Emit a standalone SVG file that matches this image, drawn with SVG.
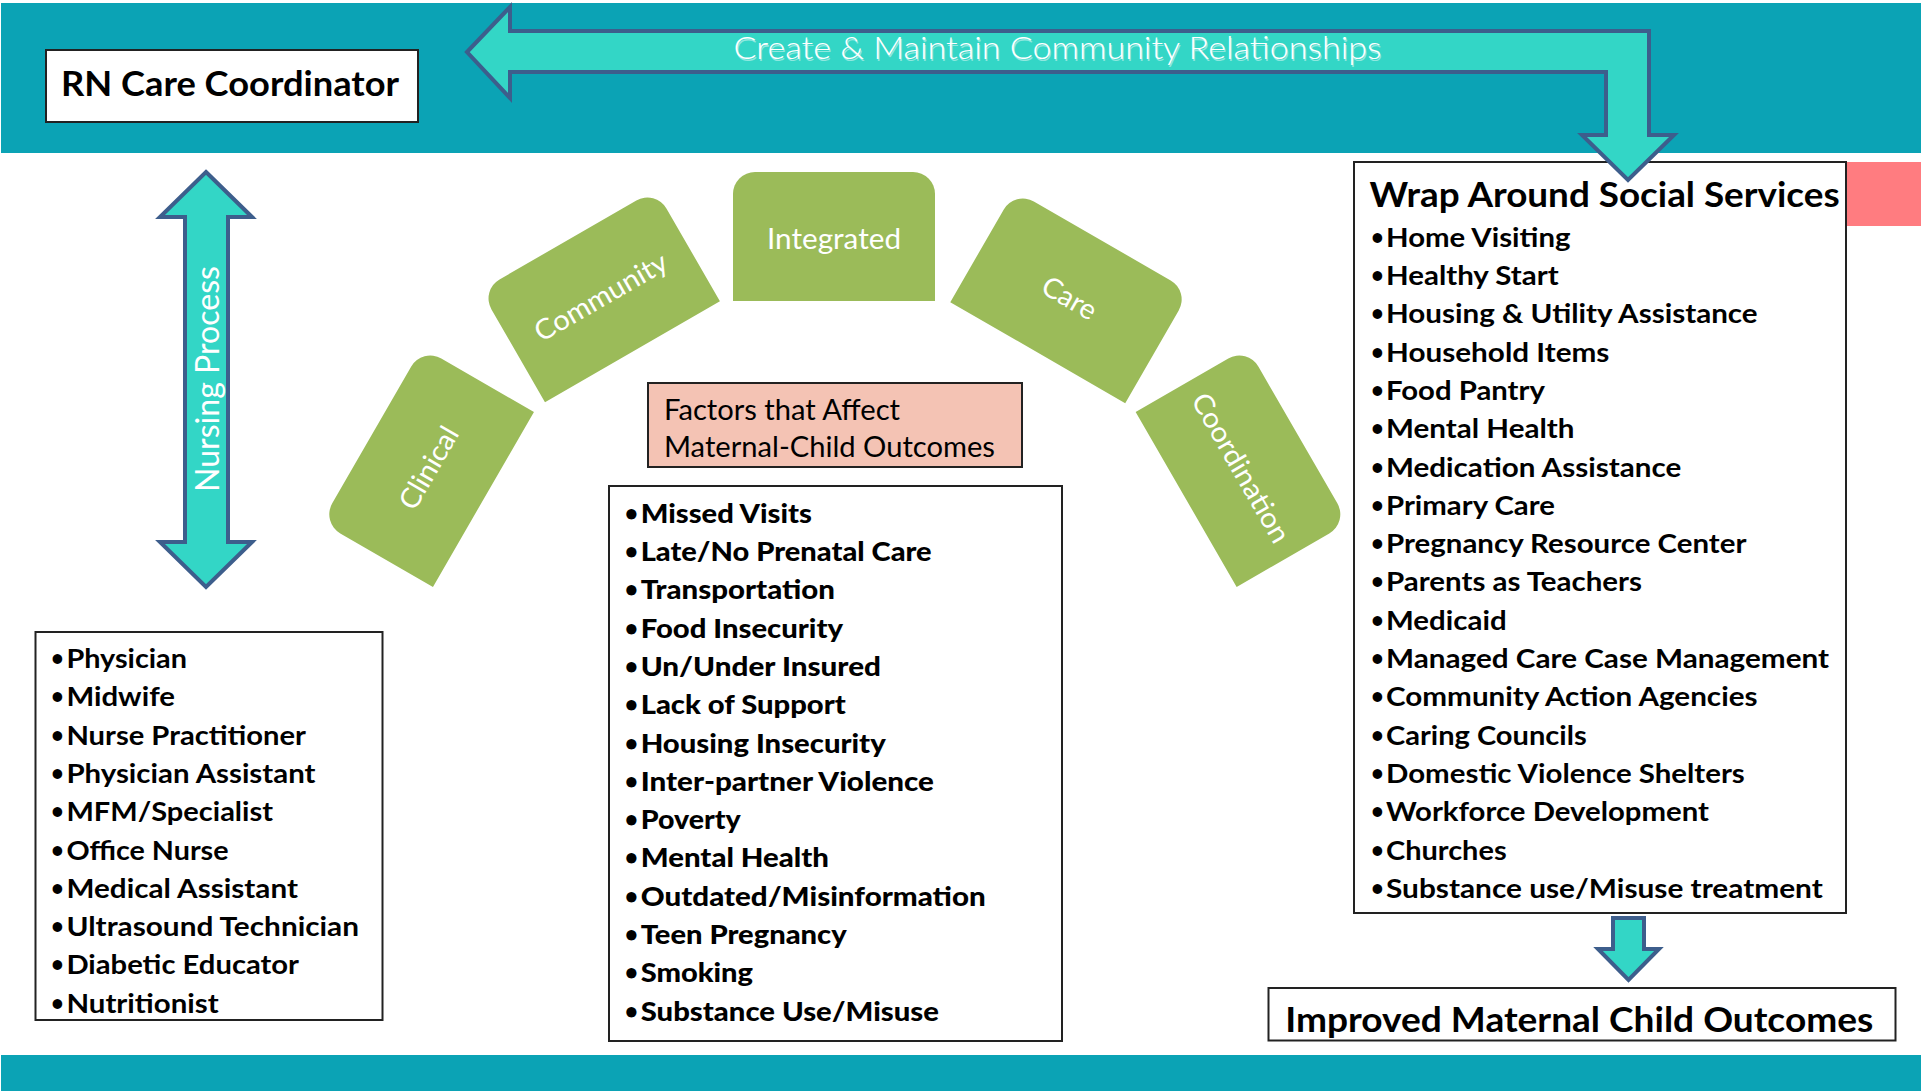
<svg xmlns="http://www.w3.org/2000/svg" width="1921" height="1091" viewBox="0 0 1921 1091">
<defs>
<style>
.band{fill:#0BA3B5}
.arrow{fill:#33D6C6;stroke:#3D5E8C;stroke-width:4;stroke-linejoin:miter}
.box{fill:#FFFFFF;stroke:#222222;stroke-width:2}
.petal{fill:#9BBB59}
.pt{font-family:Lato,"Liberation Sans",sans-serif;font-size:28px;fill:#FFFFFF;text-anchor:middle}
.li{font-family:Lato,"Liberation Sans",sans-serif;font-weight:700;font-size:27.5px;fill:#000000}
.fl{font-family:Lato,"Liberation Sans",sans-serif;font-weight:900;font-size:26px;fill:#000000}
.hd{font-family:Lato,"Liberation Sans",sans-serif;font-weight:700;font-size:35px;fill:#000000}
.wt{font-family:Lato,"Liberation Sans",sans-serif;fill:#FFFFFF}
.b{font-size:22px}
</style>
<path id="petalShape" d="M -101,64.5 V -42.5 A 22 22 0 0 1 -79,-64.5 H 79 A 22 22 0 0 1 101,-42.5 V 64.5 Z"/>
</defs>
<rect x="0" y="0" width="1921" height="1091" fill="#FFFFFF"/>
<rect class="band" x="1" y="3" width="1920" height="150"/>
<rect class="band" x="1" y="1055" width="1920" height="36"/>

<g id="rn-care-coordinator">
<rect class="box" x="46" y="50" width="372" height="72"/>
<text class="hd" x="61" y="95.5" font-size="36" textLength="338" lengthAdjust="spacingAndGlyphs">RN Care Coordinator</text>
</g>

<g id="arc-clinical" transform="translate(427.6,467.2) rotate(-60)">
<use href="#petalShape" class="petal"/>
<text class="pt" x="0" y="11" textLength="90.6" lengthAdjust="spacingAndGlyphs">Clinical</text>
</g>
<g id="arc-community" transform="translate(600.2,295.8) rotate(-30)">
<use href="#petalShape" class="petal"/>
<text class="pt" x="0" y="11" textLength="148.8" lengthAdjust="spacingAndGlyphs">Community</text>
</g>
<g id="arc-integrated" transform="translate(834,236.5)">
<use href="#petalShape" class="petal"/>
<text class="pt" x="0" y="12" textLength="134" lengthAdjust="spacingAndGlyphs">Integrated</text>
</g>
<g id="arc-care" transform="translate(1070,296.8) rotate(30)">
<use href="#petalShape" class="petal"/>
<text class="pt" x="0" y="11" textLength="58.6" lengthAdjust="spacingAndGlyphs">Care</text>
</g>
<g id="arc-coordination" transform="translate(1242,467.2) rotate(60)">
<use href="#petalShape" class="petal"/>
<text class="pt" x="0" y="11" textLength="168" lengthAdjust="spacingAndGlyphs">Coordination</text>
</g>

<g id="factors-title">
<rect x="648" y="383" width="374" height="84" fill="#F4C3B4" stroke="#222222" stroke-width="2"/>
<text x="664" y="420" font-family="Lato,'Liberation Sans',sans-serif" font-size="28.5" fill="#000000" textLength="236" lengthAdjust="spacingAndGlyphs">Factors that Affect</text>
<text x="664" y="457" font-family="Lato,'Liberation Sans',sans-serif" font-size="28.5" fill="#000000" textLength="331" lengthAdjust="spacingAndGlyphs">Maternal-Child Outcomes</text>
</g>

<g id="factors-list">
<rect class="box" x="609" y="486" width="453" height="555" stroke-width="1.5"/>
<g class="fl">
<text class="b" x="625" y="520.7">•</text><text x="640.7" y="522.7" textLength="171.3" lengthAdjust="spacingAndGlyphs">Missed Visits</text>
<text class="b" x="625" y="559">•</text><text x="640.7" y="561" textLength="291" lengthAdjust="spacingAndGlyphs">Late/No Prenatal Care</text>
<text class="b" x="625" y="597.3">•</text><text x="640.7" y="599.3" textLength="194.3" lengthAdjust="spacingAndGlyphs">Transportation</text>
<text class="b" x="625" y="635.6">•</text><text x="640.7" y="637.6" textLength="202.3" lengthAdjust="spacingAndGlyphs">Food Insecurity</text>
<text class="b" x="625" y="673.9">•</text><text x="640.7" y="675.9" textLength="240.3" lengthAdjust="spacingAndGlyphs">Un/Under Insured</text>
<text class="b" x="625" y="712.2">•</text><text x="640.7" y="714.2" textLength="205" lengthAdjust="spacingAndGlyphs">Lack of Support</text>
<text class="b" x="625" y="750.5">•</text><text x="640.7" y="752.5" textLength="245" lengthAdjust="spacingAndGlyphs">Housing Insecurity</text>
<text class="b" x="625" y="788.8">•</text><text x="640.7" y="790.8" textLength="293.3" lengthAdjust="spacingAndGlyphs">Inter-partner Violence</text>
<text class="b" x="625" y="827.1">•</text><text x="640.7" y="829.1" textLength="100" lengthAdjust="spacingAndGlyphs">Poverty</text>
<text class="b" x="625" y="865.4">•</text><text x="640.7" y="867.4" textLength="188.3" lengthAdjust="spacingAndGlyphs">Mental Health</text>
<text class="b" x="625" y="903.7">•</text><text x="640.7" y="905.7" textLength="345" lengthAdjust="spacingAndGlyphs">Outdated/Misinformation</text>
<text class="b" x="625" y="942">•</text><text x="640.7" y="944" textLength="206" lengthAdjust="spacingAndGlyphs">Teen Pregnancy</text>
<text class="b" x="625" y="980.3">•</text><text x="640.7" y="982.3" textLength="112.3" lengthAdjust="spacingAndGlyphs">Smoking</text>
<text class="b" x="625" y="1018.6">•</text><text x="640.7" y="1020.6" textLength="298.3" lengthAdjust="spacingAndGlyphs">Substance Use/Misuse</text>
</g>
</g>

<g id="care-team-list">
<rect class="box" x="35.5" y="632" width="347" height="388" stroke-width="1.5"/>
<g class="li">
<text class="b" x="51" y="666">•</text><text x="66.4" y="668" textLength="120.6" lengthAdjust="spacingAndGlyphs">Physician</text>
<text class="b" x="51" y="704.3">•</text><text x="66.4" y="706.3" textLength="108.6" lengthAdjust="spacingAndGlyphs">Midwife</text>
<text class="b" x="51" y="742.6">•</text><text x="66.4" y="744.6" textLength="239.6" lengthAdjust="spacingAndGlyphs">Nurse Practitioner</text>
<text class="b" x="51" y="780.9">•</text><text x="66.4" y="782.9" textLength="249.1" lengthAdjust="spacingAndGlyphs">Physician Assistant</text>
<text class="b" x="51" y="819.2">•</text><text x="66.4" y="821.2" textLength="206.6" lengthAdjust="spacingAndGlyphs">MFM/Specialist</text>
<text class="b" x="51" y="857.5">•</text><text x="66.4" y="859.5" textLength="162.1" lengthAdjust="spacingAndGlyphs">Office Nurse</text>
<text class="b" x="51" y="895.8">•</text><text x="66.4" y="897.8" textLength="231.6" lengthAdjust="spacingAndGlyphs">Medical Assistant</text>
<text class="b" x="51" y="934.1">•</text><text x="66.4" y="936.1" textLength="292.6" lengthAdjust="spacingAndGlyphs">Ultrasound Technician</text>
<text class="b" x="51" y="972.4">•</text><text x="66.4" y="974.4" textLength="232.6" lengthAdjust="spacingAndGlyphs">Diabetic Educator</text>
<text class="b" x="51" y="1010.7">•</text><text x="66.4" y="1012.7" textLength="152.2" lengthAdjust="spacingAndGlyphs">Nutritionist</text>
</g>
</g>

<g id="wrap-around-services">
<rect class="box" x="1354" y="162" width="492" height="751" stroke-width="1.5"/>
<rect x="1847" y="162" width="74" height="64" fill="#FF7C80"/>
<text class="hd" x="1369.6" y="206.7" textLength="470" lengthAdjust="spacingAndGlyphs">Wrap Around Social Services</text>
<g class="li">
<text class="b" x="1371" y="244.7">•</text><text x="1386" y="246.7" textLength="184.5" lengthAdjust="spacingAndGlyphs">Home Visiting</text>
<text class="b" x="1371" y="283">•</text><text x="1386" y="285" textLength="172.6" lengthAdjust="spacingAndGlyphs">Healthy Start</text>
<text class="b" x="1371" y="321.3">•</text><text x="1386" y="323.3" textLength="371.6" lengthAdjust="spacingAndGlyphs">Housing &amp; Utility Assistance</text>
<text class="b" x="1371" y="359.6">•</text><text x="1386" y="361.6" textLength="223.4" lengthAdjust="spacingAndGlyphs">Household Items</text>
<text class="b" x="1371" y="397.9">•</text><text x="1386" y="399.9" textLength="158.9" lengthAdjust="spacingAndGlyphs">Food Pantry</text>
<text class="b" x="1371" y="436.2">•</text><text x="1386" y="438.2" textLength="188.5" lengthAdjust="spacingAndGlyphs">Mental Health</text>
<text class="b" x="1371" y="474.5">•</text><text x="1386" y="476.5" textLength="295.2" lengthAdjust="spacingAndGlyphs">Medication Assistance</text>
<text class="b" x="1371" y="512.8">•</text><text x="1386" y="514.8" textLength="168.9" lengthAdjust="spacingAndGlyphs">Primary Care</text>
<text class="b" x="1371" y="551.1">•</text><text x="1386" y="553.1" textLength="360.4" lengthAdjust="spacingAndGlyphs">Pregnancy Resource Center</text>
<text class="b" x="1371" y="589.4">•</text><text x="1386" y="591.4" textLength="256" lengthAdjust="spacingAndGlyphs">Parents as Teachers</text>
<text class="b" x="1371" y="627.7">•</text><text x="1386" y="629.7" textLength="120.6" lengthAdjust="spacingAndGlyphs">Medicaid</text>
<text class="b" x="1371" y="666">•</text><text x="1386" y="668" textLength="443.1" lengthAdjust="spacingAndGlyphs">Managed Care Case Management</text>
<text class="b" x="1371" y="704.3">•</text><text x="1386" y="706.3" textLength="371.5" lengthAdjust="spacingAndGlyphs">Community Action Agencies</text>
<text class="b" x="1371" y="742.6">•</text><text x="1386" y="744.6" textLength="200.7" lengthAdjust="spacingAndGlyphs">Caring Councils</text>
<text class="b" x="1371" y="780.9">•</text><text x="1386" y="782.9" textLength="358.8" lengthAdjust="spacingAndGlyphs">Domestic Violence Shelters</text>
<text class="b" x="1371" y="819.2">•</text><text x="1386" y="821.2" textLength="323" lengthAdjust="spacingAndGlyphs">Workforce Development</text>
<text class="b" x="1371" y="857.5">•</text><text x="1386" y="859.5" textLength="120.6" lengthAdjust="spacingAndGlyphs">Churches</text>
<text class="b" x="1371" y="895.8">•</text><text x="1386" y="897.8" textLength="436.8" lengthAdjust="spacingAndGlyphs">Substance use/Misuse treatment</text>
</g>
</g>

<g id="improved-outcomes">
<rect class="box" x="1268.5" y="988" width="627" height="52.5" stroke-width="1.5"/>
<text class="hd" x="1285.3" y="1031.7" textLength="588" lengthAdjust="spacingAndGlyphs">Improved Maternal Child Outcomes</text>
</g>

<g id="connectors">
<path class="arrow" d="M 467,52 L 510,7 L 510,31 L 1649,31 L 1649,135 L 1674,135 L 1628,180 L 1582,135 L 1606,135 L 1606,72 L 510,72 L 510,98 Z"/>
<text class="wt" x="734.5" y="60.5" font-size="31.5" font-weight="300" fill="#3D5E8C" opacity="0.45" textLength="648" lengthAdjust="spacingAndGlyphs">Create &amp; Maintain Community Relationships</text>
<text class="wt" x="733.5" y="59" font-size="31.5" font-weight="300" textLength="648" lengthAdjust="spacingAndGlyphs">Create &amp; Maintain Community Relationships</text>
<path class="arrow" d="M 206,172 L 252,217 L 228,217 L 228,542 L 252,542 L 206,587 L 160,542 L 185,542 L 185,217 L 160,217 Z"/>
<text class="wt" transform="translate(219,379) rotate(-90)" x="0" y="0" font-size="32" text-anchor="middle" textLength="226" lengthAdjust="spacingAndGlyphs">Nursing Process</text>
<path class="arrow" d="M 1613,918 L 1644,918 L 1644,949 L 1659,949 L 1628.5,980 L 1598,949 L 1613,949 Z"/>
</g>
</svg>
